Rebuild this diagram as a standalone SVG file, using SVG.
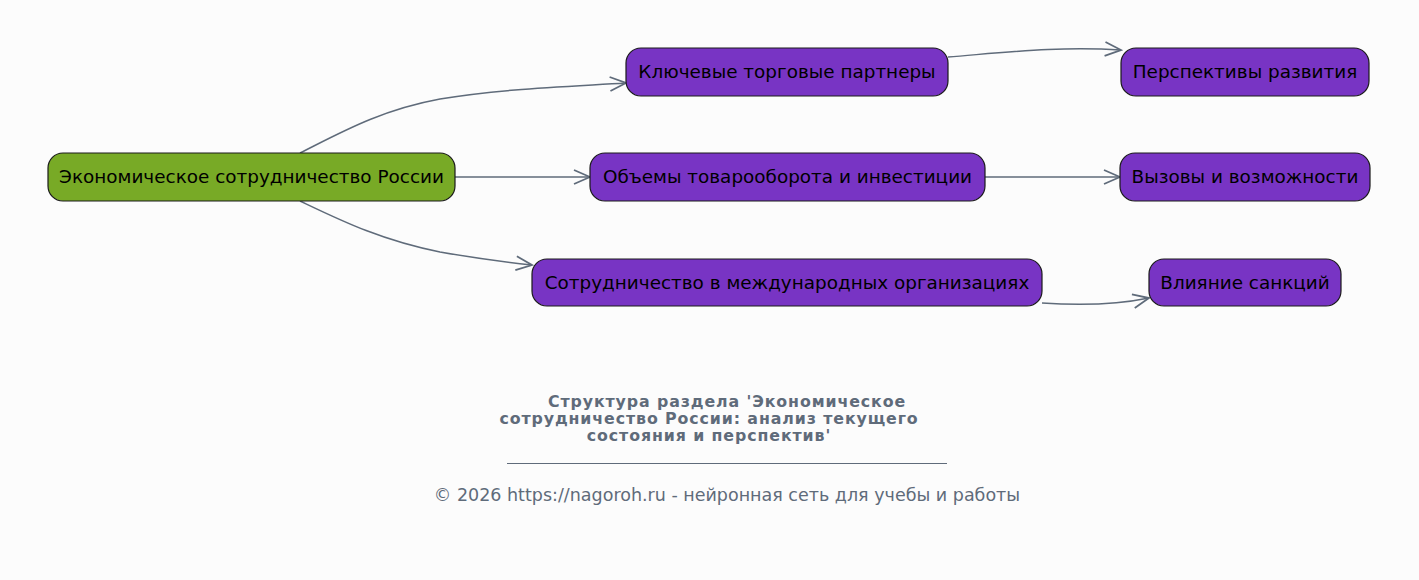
<svg xmlns="http://www.w3.org/2000/svg" width="1419" height="580" viewBox="0 0 1419 580">
<style>
.bg{fill:#fcfcfc}
.n rect{stroke:#1a1a1a;stroke-width:1.2}
.root rect{fill:#78aa26}
.child rect{fill:#7834c4}
.n text{font-family:"DejaVu Sans",sans-serif;font-size:18.4px;fill:#000;text-anchor:middle;dominant-baseline:central}
.e path{fill:none;stroke:#5f6b7a;stroke-width:1.5;marker-end:url(#arr)}
.title{font-family:"DejaVu Sans",sans-serif;font-size:15.8px;letter-spacing:0.9px;font-weight:bold;fill:#5f6b7a;text-anchor:middle}
.foot{font-family:"DejaVu Sans",sans-serif;font-size:17.5px;fill:#5f6b7a;text-anchor:middle}
</style>
<defs>
<marker id="arr" viewBox="0 0 20 20" refX="18" refY="10" markerWidth="20" markerHeight="20" markerUnits="userSpaceOnUse" orient="auto">
<path d="M2,3 L18,10 L2,17" fill="none" stroke="#5f6b7a" stroke-width="1.8"/>
</marker>
</defs>
<rect class="bg" x="0" y="0" width="1419" height="580"/>
<g id="edges" class="e">
<path d="M300,153 C340,133 380,110 440,99 C500,89 560,87 626,83"/>
<path d="M455,177 L590,177"/>
<path d="M300,201 C340,220 380,240 440,252 C480,259 505,262 532,265"/>
<path d="M948,57 C1010,52 1060,46 1121,50"/>
<path d="M985,177 L1120,177"/>
<path d="M1042,303 C1085,306 1120,304 1149,298"/>
</g>
<g id="root" class="n root"><rect x="48" y="153" width="407" height="48" rx="15"/><text x="251.5" y="176">Экономическое сотрудничество России</text></g>
<g id="n1" class="n child"><rect x="626" y="48" width="322" height="48" rx="15"/><text x="787" y="71">Ключевые торговые партнеры</text></g>
<g id="n2" class="n child"><rect x="590" y="153" width="395" height="48" rx="15"/><text x="787.5" y="176">Объемы товарооборота и инвестиции</text></g>
<g id="n3" class="n child"><rect x="532" y="259" width="510" height="47" rx="15"/><text x="787" y="282">Сотрудничество в международных организациях</text></g>
<g id="n4" class="n child"><rect x="1121" y="48" width="248" height="48" rx="15"/><text x="1245" y="71">Перспективы развития</text></g>
<g id="n5" class="n child"><rect x="1120" y="153" width="250" height="48" rx="15"/><text x="1245" y="176">Вызовы и возможности</text></g>
<g id="n6" class="n child"><rect x="1149" y="259" width="192" height="47" rx="15"/><text x="1245" y="282">Влияние санкций</text></g>
<g id="caption">
<text class="title" x="727" y="407">Структура раздела 'Экономическое</text>
<text class="title" x="709" y="424">сотрудничество России: анализ текущего</text>
<text class="title" x="709" y="441">состояния и перспектив'</text>
<line x1="507" y1="463.5" x2="947" y2="463.5" stroke="#5f6b7a" stroke-width="1"/>
<text class="foot" x="727" y="501">© 2026 https://nagoroh.ru - нейронная сеть для учебы и работы</text>
</g>
</svg>
